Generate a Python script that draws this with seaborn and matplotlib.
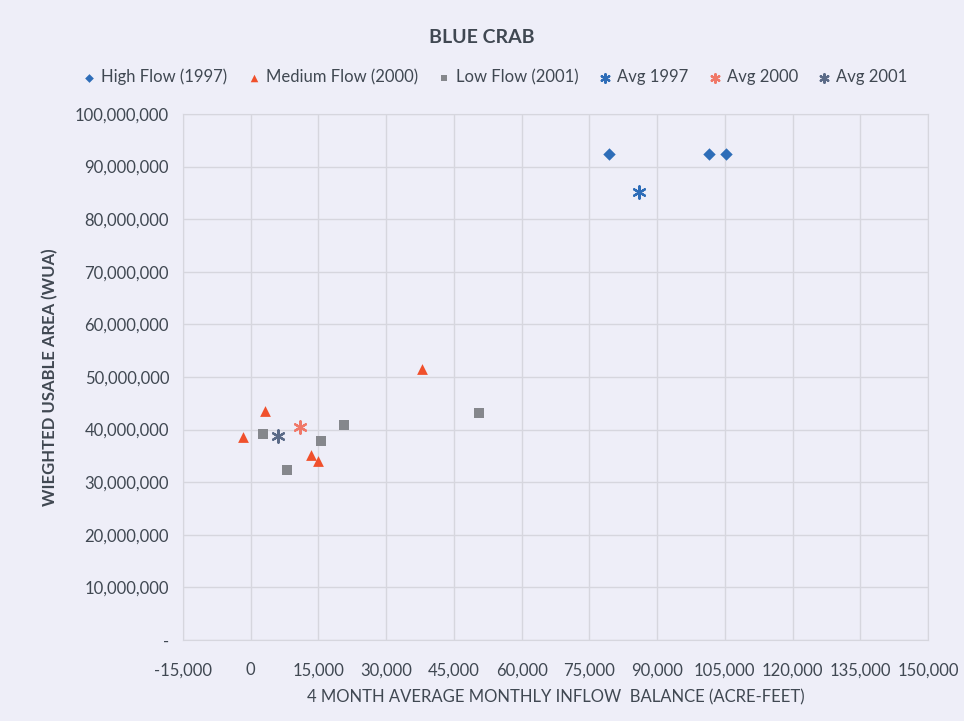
import numpy as np
import pandas as pd
import matplotlib
matplotlib.use("Agg")
import matplotlib.pyplot as plt
import seaborn as sns
from matplotlib.ticker import FuncFormatter, MultipleLocator

# data
high_x = [79400, 101500, 105200]
high_y = [92400000, 92400000, 92400000]
med_x = [38000, 3200, -1800, 13400, 14800]
med_y = [51500000, 43600000, 38600000, 35200000, 34000000]
low_x = [2700, 8000, 15500, 20700, 50500]
low_y = [39200000, 32400000, 37900000, 40900000, 43200000]
avg97_x, avg97_y = [86000], [85200000]
avg00_x, avg00_y = [11000], [40500000]
avg01_x, avg01_y = [6000], [38700000]

series = ["High Flow (1997)", "Medium Flow (2000)", "Low Flow (2001)",
          "Avg 1997", "Avg 2000", "Avg 2001"]

df = pd.concat([
    pd.DataFrame({"x": high_x, "y": high_y, "s": series[0]}),
    pd.DataFrame({"x": med_x, "y": med_y, "s": series[1]}),
    pd.DataFrame({"x": low_x, "y": low_y, "s": series[2]}),
    pd.DataFrame({"x": avg97_x, "y": avg97_y, "s": series[3]}),
    pd.DataFrame({"x": avg00_x, "y": avg00_y, "s": series[4]}),
    pd.DataFrame({"x": avg01_x, "y": avg01_y, "s": series[5]}),
])

colors = {series[0]: "#2E6DB8", series[1]: "#F0502C", series[2]: "#85878C",
          series[3]: "#2E6DB8", series[4]: "#F07868", series[5]: "#5B6B88"}
markers = {series[0]: "D", series[1]: "^", series[2]: "s",
           series[3]: (6, 2, 0), series[4]: (6, 2, 0), series[5]: (6, 2, 0)}
sizes = {series[0]: 40, series[1]: 60, series[2]: 45,
         series[3]: 80, series[4]: 80, series[5]: 80}

sns.set_style("white")
plt.rcParams["font.family"] = ["Lato", "DejaVu Sans"]
txt = "#404852"
bg = "#EEEEF8"

fig = plt.figure(figsize=(9.64, 7.21), dpi=100, facecolor=bg)
ax = fig.add_axes([183 / 964, 81 / 721, 745 / 964, 526 / 721])
ax.set_facecolor(bg)

for s in series:
    d = df[df["s"] == s]
    sns.scatterplot(data=d, x="x", y="y", ax=ax, color=colors[s],
                    marker=markers[s], s=sizes[s], linewidth=1.6 if s.startswith("Avg") else 0,
                    edgecolor=colors[s], label=s, zorder=3)

ax.set_xlim(-15000, 150000)
ax.set_ylim(0, 100000000)
ax.xaxis.set_major_locator(MultipleLocator(15000))
ax.yaxis.set_major_locator(MultipleLocator(10000000))
ax.xaxis.set_major_formatter(FuncFormatter(lambda v, p: "0" if v == 0 else f"{v:,.0f}"))
ax.yaxis.set_major_formatter(FuncFormatter(lambda v, p: "-" if v == 0 else f"{v:,.0f}"))
ax.grid(True, color="#D6D6DE", linewidth=1)
for sp in ax.spines.values():
    sp.set_color("#D6D6DE")
ax.tick_params(length=0, labelsize=12, colors=txt, pad=10)
ax.tick_params(axis="x", pad=16)

ax.set_xlabel("4 MONTH AVERAGE MONTHLY INFLOW  BALANCE (ACRE-FEET)", fontsize=12,
              color=txt, labelpad=8)
ax.set_ylabel("WIEGHTED USABLE AREA (WUA)", fontsize=12, color=txt,
              fontweight="bold", labelpad=12)
fig.text(0.5, 0.948, "BLUE CRAB", ha="center", va="center", fontsize=14,
         fontweight="bold", color=txt)

ax.legend(loc="upper center", bbox_to_anchor=(0.42, 1.115), ncol=6, frameon=False,
          fontsize=12, handlelength=0.6, handletextpad=0.4, columnspacing=1.3,
          labelcolor=txt, markerscale=0.7)

fig.savefig("out.png", dpi=100, facecolor=bg)
